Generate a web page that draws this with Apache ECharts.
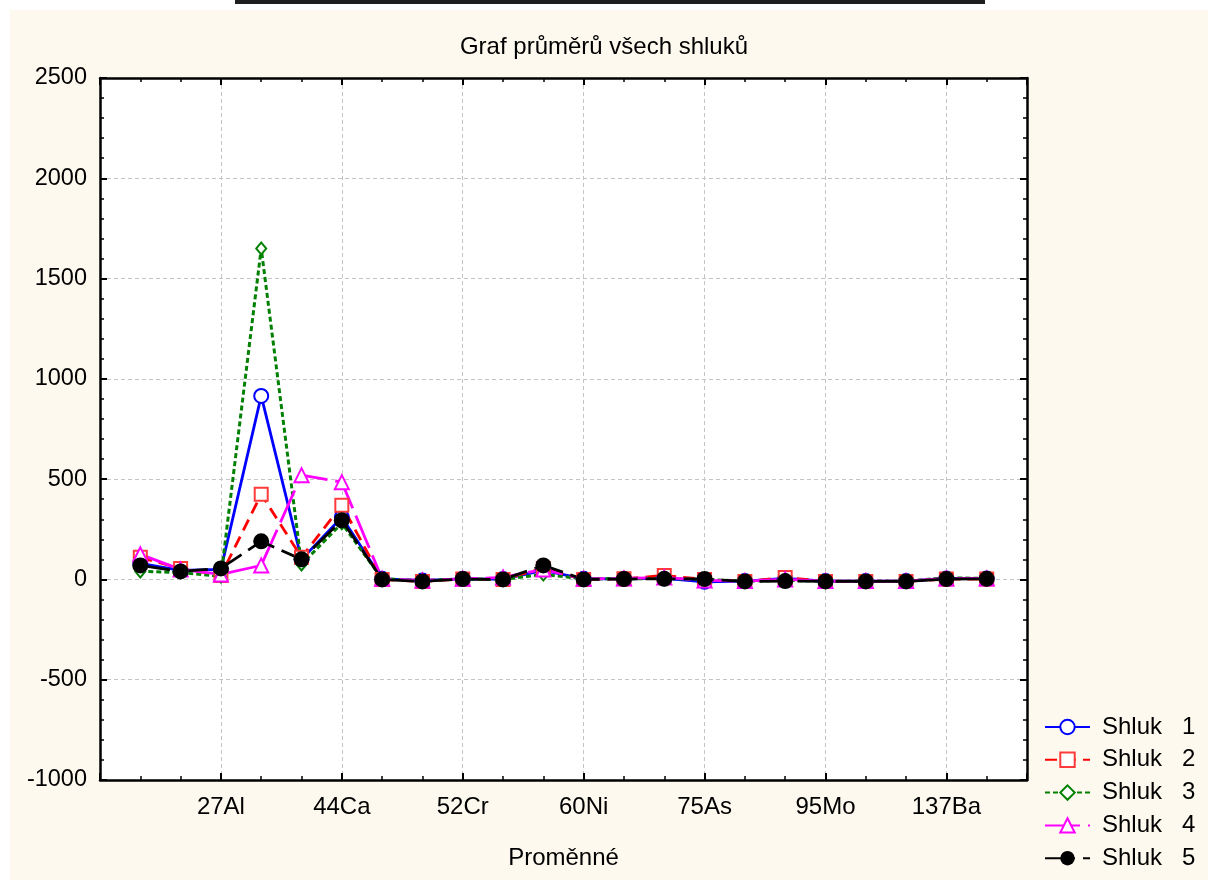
<!DOCTYPE html>
<html>
<head>
<meta charset="utf-8">
<script src="https://cdn.jsdelivr.net/npm/echarts@6/dist/echarts.min.js"></script>
<style>
html,body{margin:0;padding:0;background:#fff;}
#wrap{position:relative;width:1208px;height:880px;overflow:hidden;}
#bg{position:absolute;left:10px;top:10px;width:1198px;height:870px;background:#fdf9ee;}
#bar{position:absolute;left:235px;top:0;width:750px;height:4px;background:#1e1e1e;}
#chart{position:absolute;left:0;top:0;width:1208px;height:880px;}
</style>
</head>
<body>
<div id="wrap"><div id="bg"></div><div id="bar"></div><div id="chart"></div></div>
<script>
// Categories (only every third one is labelled in the reference)
const categories = ["23Na","24Mg","27Al","39K","43Ca","44Ca","47Ti","51V","52Cr","55Mn","57Fe","60Ni","63Cu","66Zn","75As","78Se","88Sr","95Mo","111Cd","121Sb","137Ba","208Pb"];
const yTicks = [-1000,-500,0,500,1000,1500,2000,2500];
const shluk1 = [80, 45, 50, 915, 100, 310, 3, -5, 3, 2, 45, 3, 3, 5, -12, -8, 5, -8, -8, -8, 5, 5];
const shluk2 = [110, 55, 20, 425, 110, 370, 0, -10, 2, 0, 55, 0, 3, 20, 0, -10, 10, -10, -10, -10, 2, 2];
const shluk3 = [40, 35, 15, 1650, 75, 280, 3, -5, 2, 0, 25, 3, 3, 5, 0, -8, -5, -8, -8, -8, 8, 5];
const shluk4 = [125, 50, 25, 70, 520, 485, 3, -5, 3, 10, 50, 3, 5, 10, -5, -8, 0, -8, -8, -8, 5, 5];
const shluk5 = [70, 40, 55, 190, 100, 295, 0, -10, 2, 0, 70, 0, 2, 3, 2, -10, -8, -10, -10, -10, 2, 3];
const seriesNames = ['Shluk   1','Shluk   2','Shluk   3','Shluk   4','Shluk   5'];

const FONT = "Liberation Sans, Arial, sans-serif";
const FS = 24;
const toData = arr => arr.map((v,i)=>[i+1, v]);
const chart = echarts.init(document.getElementById('chart'), null, {renderer:'canvas'});
const gridLine = {show:true, lineStyle:{color:'#c4c4c4', width:1, type:[4,3]}};
const frame = {show:true, onZero:false, lineStyle:{color:'#000', width:2.5}};
const noLine = {show:false, onZero:false};
const xBase = {type:'value', min:0, max:categories.length+1, gridIndex:0};
const yBase = {type:'value', min:yTicks[0], max:yTicks[yTicks.length-1], interval:yTicks[1]-yTicks[0]};

chart.setOption({
  backgroundColor:'transparent',
  animation:false,
  title:{text:'Graf průměrů všech shluků', left:'center', top:30,
    textStyle:{fontFamily:FONT, fontSize:FS, fontWeight:'normal', color:'#000'}},
  grid:{left:100, right:181, top:78, bottom:100, show:true, backgroundColor:'#fff', borderWidth:0},
  legend:{orient:'vertical', left:1044, top:715, padding:0, itemWidth:45, itemHeight:18, itemGap:8.8,
    textStyle:{fontFamily:FONT, fontSize:FS, lineHeight:24, color:'#000', padding:[0,0,0,7]},
    data:seriesNames},
  xAxis:[
    Object.assign({}, xBase, {position:'bottom', interval:1, axisLine:frame,
      axisTick:{show:true, inside:true, length:4, lineStyle:{color:'#000', width:1.5}},
      axisLabel:{show:true, margin:15, fontFamily:FONT, fontSize:FS, color:'#000',
        formatter:v => (v%3===0 && v>=1 && v<=categories.length) ? categories[v-1] : ''},
      splitLine:{show:false},
      name:'Proměnné', nameLocation:'middle', nameGap:66,
      nameTextStyle:{fontFamily:FONT, fontSize:FS, color:'#000'}}),
    Object.assign({}, xBase, {position:'bottom', interval:3, axisLine:noLine,
      axisTick:{show:true, inside:true, length:7, lineStyle:{color:'#000', width:2}},
      axisLabel:{show:false}, splitLine:gridLine}),
    Object.assign({}, xBase, {position:'top', interval:1, axisLine:frame,
      axisTick:{show:true, inside:true, length:4, lineStyle:{color:'#000', width:1.5}},
      axisLabel:{show:false}, splitLine:{show:false}}),
    Object.assign({}, xBase, {position:'top', interval:3, axisLine:noLine,
      axisTick:{show:true, inside:true, length:7, lineStyle:{color:'#000', width:2}},
      axisLabel:{show:false}, splitLine:{show:false}})
  ],
  yAxis:[
    Object.assign({}, yBase, {position:'left', axisLine:frame,
      axisTick:{show:true, inside:true, length:7, lineStyle:{color:'#000', width:2}},
      minorTick:{show:true, splitNumber:5, length:4, lineStyle:{color:'#000', width:1.5}},
      axisLabel:{margin:13, fontFamily:FONT, fontSize:23.5, color:'#000', formatter:v => String(v)},
      splitLine:gridLine}),
    Object.assign({}, yBase, {position:'right', axisLine:frame,
      axisTick:{show:true, inside:true, length:7, lineStyle:{color:'#000', width:2}},
      minorTick:{show:true, splitNumber:5, length:4, lineStyle:{color:'#000', width:1.5}},
      axisLabel:{show:false}, splitLine:{show:false}})
  ],
  series:[
    {name:seriesNames[0], type:'line', data:toData(shluk1), symbol:'emptyCircle', symbolSize:14,
      lineStyle:{color:'#0000ff', width:2.8}, itemStyle:{color:'#0000ff', borderWidth:1.2}},
    {name:seriesNames[1], type:'line', data:toData(shluk2), symbol:'emptyRect', symbolSize:13,
      lineStyle:{color:'#ff0000', width:2.8, type:[12,7]}, itemStyle:{color:'#ff3a3a', borderWidth:1.2}},
    {name:seriesNames[2], type:'line', data:toData(shluk3), symbol:'emptyDiamond', symbolSize:[10,12],
      lineStyle:{color:'#008000', width:3, type:[5,3]}, itemStyle:{color:'#008000', borderWidth:1.2}},
    {name:seriesNames[3], type:'line', data:toData(shluk4), symbol:'emptyTriangle', symbolSize:14,
      lineStyle:{color:'#ff00ff', width:2.8, type:[35,8]}, itemStyle:{color:'#ff00ff', borderWidth:1.2}},
    {name:seriesNames[4], type:'line', data:toData(shluk5), symbol:'circle', symbolSize:16,
      lineStyle:{color:'#000000', width:2.8, type:[30,8]}, itemStyle:{color:'#000000'}}
  ]
});
</script>
</body>
</html>
